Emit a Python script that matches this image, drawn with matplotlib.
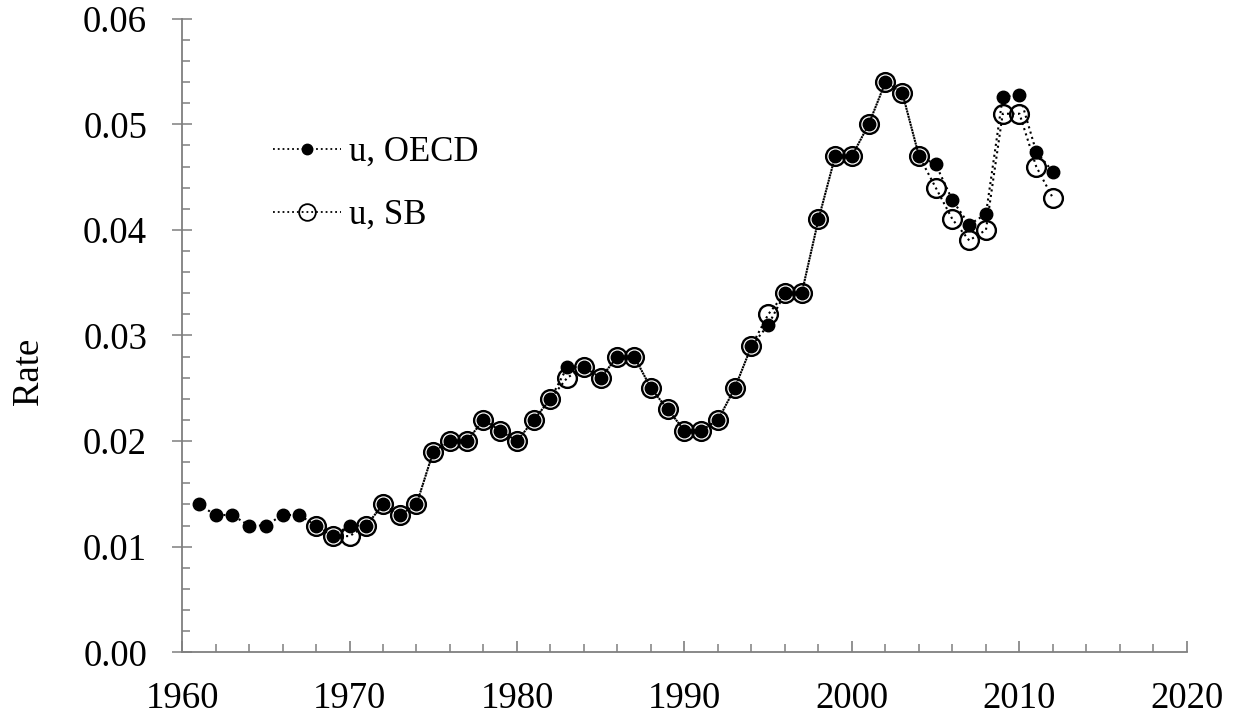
import matplotlib
matplotlib.use("Agg")
import matplotlib.pyplot as plt
from matplotlib.ticker import MultipleLocator, FormatStrFormatter
from matplotlib.lines import Line2D

plt.rcParams['font.family'] = ['Liberation Serif', 'DejaVu Serif']

years_oecd = list(range(1961, 2013))
u_oecd = [0.014, 0.013, 0.013, 0.012, 0.012, 0.013, 0.013, 0.012, 0.011, 0.012,
          0.012, 0.014, 0.013, 0.014, 0.019, 0.020, 0.020, 0.022, 0.021, 0.020,
          0.022, 0.024, 0.027, 0.027, 0.026, 0.028, 0.028, 0.025, 0.023, 0.021,
          0.021, 0.022, 0.025, 0.029, 0.031, 0.034, 0.034, 0.041, 0.047, 0.047,
          0.050, 0.054, 0.053, 0.047, 0.0462, 0.0428, 0.0405, 0.0415, 0.0526, 0.0528,
          0.0474, 0.0455]

years_sb = list(range(1968, 2013))
u_sb = [0.012, 0.011, 0.011, 0.012, 0.014, 0.013, 0.014, 0.019, 0.020, 0.020,
        0.022, 0.021, 0.020, 0.022, 0.024, 0.026, 0.027, 0.026, 0.028, 0.028,
        0.025, 0.023, 0.021, 0.021, 0.022, 0.025, 0.029, 0.032, 0.034, 0.034,
        0.041, 0.047, 0.047, 0.050, 0.054, 0.053, 0.047, 0.044, 0.041, 0.039,
        0.040, 0.051, 0.051, 0.046, 0.043]

labels = ['u, OECD', 'u, SB']

fig = plt.figure(figsize=(12.39, 7.19), dpi=100)
ax = fig.add_axes([0.1469, 0.0928, 0.958 - 0.1469, 0.974 - 0.0928])

ax.plot(years_sb, u_sb, linestyle=':', color='black', linewidth=1.5,
        marker='o', markersize=13.5, markerfacecolor='none',
        markeredgecolor='black', markeredgewidth=1.7, zorder=2)
ax.plot(years_oecd, u_oecd, linestyle=':', color='black', linewidth=1.5,
        marker='o', markersize=9, markerfacecolor='black',
        markeredgecolor='black', zorder=3)

ax.set_xlim(1960, 2020)
ax.set_ylim(0, 0.06)
ax.xaxis.set_major_locator(MultipleLocator(10))
ax.xaxis.set_minor_locator(MultipleLocator(2))
ax.yaxis.set_major_locator(MultipleLocator(0.01))
ax.yaxis.set_minor_locator(MultipleLocator(0.002))
ax.yaxis.set_major_formatter(FormatStrFormatter('%.2f'))

for s in ['top', 'right']:
    ax.spines[s].set_visible(False)
for s in ['left', 'bottom']:
    ax.spines[s].set_color('#7f7f7f')
    ax.spines[s].set_linewidth(1.3)

ax.tick_params(axis='y', which='major', direction='inout', length=14.4, width=1.1,
               color='#7f7f7f', labelsize=26.5, pad=18)
ax.tick_params(axis='y', which='minor', direction='in', length=5.5, width=1.1,
               color='#7f7f7f')
ax.tick_params(axis='x', which='major', direction='in', length=8, width=1.2,
               color='#7f7f7f', labelsize=26.5, pad=21)
ax.tick_params(axis='x', which='minor', direction='in', length=6, width=1.1,
               color='#7f7f7f')

ax.set_ylabel('Rate', fontsize=26.5)
ax.yaxis.set_label_coords(-0.135, 0.444)

handles = [
    Line2D([], [], linestyle=':', color='black', linewidth=1.3, marker='o',
           markersize=7.5, markerfacecolor='black', markeredgecolor='black'),
    Line2D([], [], linestyle=':', color='black', linewidth=1.3, marker='o',
           markersize=12, markerfacecolor='none', markeredgecolor='black',
           markeredgewidth=1.3),
]
leg = ax.legend(handles, labels, loc='upper left', bbox_to_anchor=(0.0905, 0.815),
                frameon=False, fontsize=25, handlelength=1.95, handletextpad=0.25,
                labelspacing=0.865, borderpad=0, borderaxespad=0)

fig.savefig('out.png', dpi=100)
